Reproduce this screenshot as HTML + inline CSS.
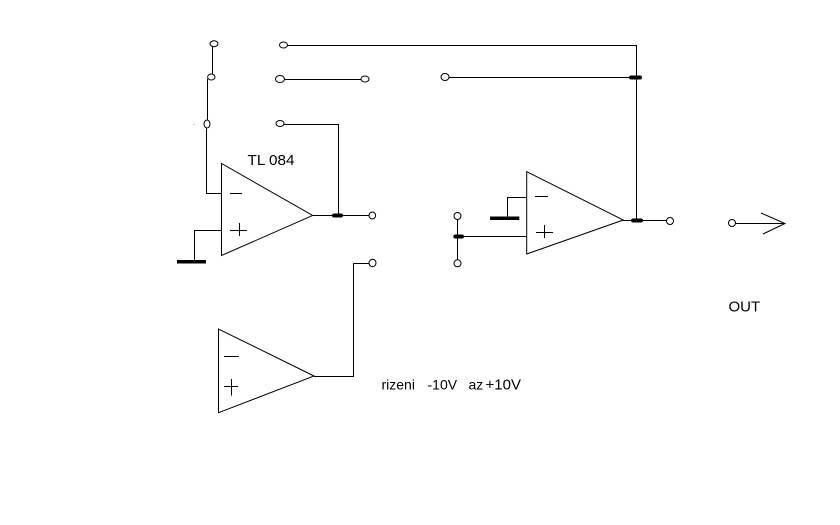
<!DOCTYPE html>
<html>
<head>
<meta charset="utf-8">
<style>
html,body{margin:0;padding:0;background:#fff;}
svg{display:block;}
text{font-family:"Liberation Sans",Arial,sans-serif;fill:#000;}
</style>
</head>
<body>
<svg width="840" height="525" viewBox="0 0 840 525" xmlns="http://www.w3.org/2000/svg">
<rect width="840" height="525" fill="#fff"/>
<g stroke="#000" stroke-width="1" fill="none">
  <!-- left switch column -->
  <line x1="212.5" y1="47" x2="212.5" y2="74"/>
  <line x1="207.5" y1="79" x2="207.5" y2="120"/>
  <polyline points="206.5,128 206.5,193.5 221.5,193.5"/>
  <!-- top line to right -->
  <polyline points="287.5,45.5 636.5,45.5 636.5,220"/>
  <line x1="284.5" y1="79.5" x2="361" y2="79.5"/>
  <polyline points="284,124.5 338.5,124.5 338.5,215"/>
  <!-- opamp 1 -->
  <polygon points="221.5,163.5 221.5,255.5 312.7,215.5"/>
  <line x1="313" y1="215.5" x2="369" y2="215.5"/>
  <polyline points="221.5,230.5 194.5,230.5 194.5,261"/>
  <line x1="230" y1="193.5" x2="242" y2="193.5"/>
  <line x1="230" y1="230.5" x2="247" y2="230.5"/>
  <line x1="239.5" y1="223" x2="239.5" y2="236"/>
  <!-- opamp 3 -->
  <polyline points="369,263.5 353.5,263.5 353.5,376.5 314,376.5"/>
  <polygon points="218.5,329 218.5,412.7 314,376"/>
  <line x1="224" y1="356.5" x2="239" y2="356.5"/>
  <line x1="224" y1="386.5" x2="238" y2="386.5"/>
  <line x1="231.5" y1="379" x2="231.5" y2="395.5"/>
  <!-- right side -->
  <line x1="449" y1="77.5" x2="636.5" y2="77.5"/>
  <polygon points="526.7,171.7 526.7,254 623.3,220"/>
  <polyline points="526.7,197.5 507.5,197.5 507.5,218"/>
  <line x1="458" y1="236.5" x2="527" y2="236.5"/>
  <line x1="457.5" y1="219.5" x2="457.5" y2="259.7"/>
  <line x1="623" y1="220.5" x2="666.5" y2="220.5"/>
  <line x1="535" y1="196.5" x2="548" y2="196.5"/>
  <line x1="536" y1="232.5" x2="553" y2="232.5"/>
  <line x1="544.5" y1="225" x2="544.5" y2="238"/>
  <!-- OUT arrow -->
  <line x1="735.5" y1="223.5" x2="785" y2="223.5"/>
  <polyline points="761,213 785,223.5 763,234"/>
</g>
<!-- circles -->
<g stroke="#000" stroke-width="1" fill="#fff">
  <ellipse cx="214" cy="43.7" rx="4" ry="3"/>
  <ellipse cx="211.3" cy="77" rx="3.7" ry="3"/>
  <ellipse cx="207" cy="124" rx="3" ry="4"/>
  <ellipse cx="283.5" cy="45" rx="4" ry="3"/>
  <ellipse cx="280" cy="79" rx="4.5" ry="3.5"/>
  <ellipse cx="365" cy="79" rx="4" ry="3"/>
  <ellipse cx="280" cy="123.5" rx="4" ry="3"/>
  <ellipse cx="372.3" cy="215.5" rx="3.3" ry="3.5"/>
  <ellipse cx="372.5" cy="263" rx="3.5" ry="3.7"/>
  <ellipse cx="445" cy="77" rx="4" ry="3.5"/>
  <ellipse cx="457.5" cy="216" rx="3.5" ry="3.5"/>
  <ellipse cx="457.5" cy="263.3" rx="3.5" ry="3.5"/>
  <ellipse cx="670" cy="221" rx="3.5" ry="3.5"/>
  <ellipse cx="732" cy="223" rx="3.5" ry="3.5"/>
</g>
<!-- junction blobs and grounds -->
<g fill="#000">
  <rect x="332" y="213.5" width="11" height="4" rx="2"/>
  <rect x="629" y="75.5" width="13" height="4" rx="2"/>
  <rect x="631" y="218.5" width="12" height="4" rx="2"/>
  <rect x="453.3" y="234.5" width="10.7" height="4" rx="2"/>
  <rect x="177" y="260" width="29" height="3.5"/>
  <rect x="490" y="216.5" width="29.3" height="3.5"/>
  <rect x="193.5" y="124" width="1" height="1" fill="#888"/>
</g>
<!-- labels -->
<text x="247.5" y="165" font-size="15px" textLength="47" lengthAdjust="spacingAndGlyphs">TL 084</text>
<text x="728.5" y="311.5" font-size="15px">OUT</text>
<text x="381.5" y="389.3" font-size="14px">rizeni</text>
<text x="427.5" y="389.3" font-size="14px">-10V</text>
<text x="468.5" y="389.3" font-size="14px">az</text>
<text x="485.5" y="389.3" font-size="15px">+10V</text>
</svg>
</body>
</html>
